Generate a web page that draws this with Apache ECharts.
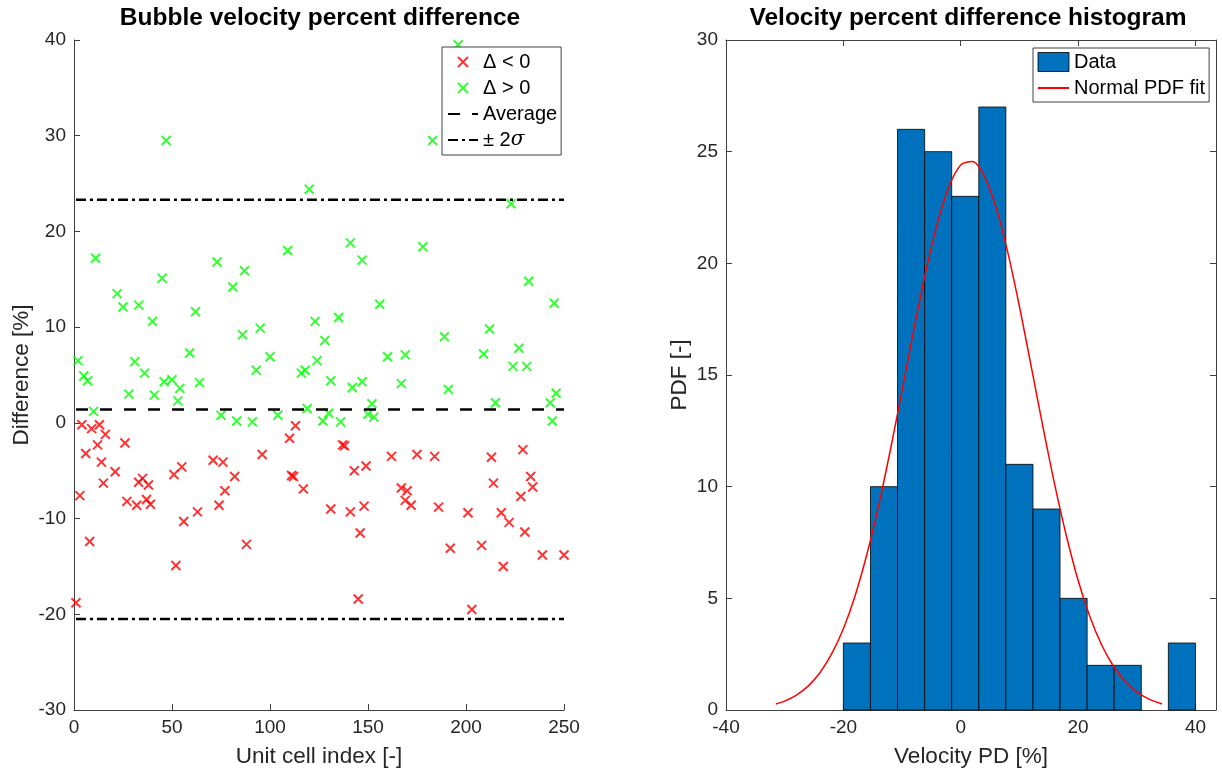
<!DOCTYPE html>
<html>
<head>
<meta charset="utf-8">
<script src="https://cdn.jsdelivr.net/npm/echarts@6/dist/echarts.min.js"></script>
<style>html,body{margin:0;padding:0;background:#fff;}#c{width:1222px;height:773px;}</style>
</head>
<body>
<div id="c"></div>
<script>
// ---- Left plot data: unit cell index and percent difference ----
const negIdx = [1,3,4,6,8,9,12,13,14,15,16,21,26,27,32,33,35,37,38,39,51,52,55,56,63,71,74,76,77,82,88,96,110,111,112,113,117,131,137,138,141,143,145,146,148,149,162,167,169,170,172,175,184,186,192,201,203,208,213,214,218,219,222,228,229,230,233,234,239,250];
const negVal = [-18.8,-7.6,-0.2,-3.2,-12.4,-0.6,-2.3,-0.2,-4.1,-6.3,-1.2,-5.1,-2.1,-8.2,-8.6,-6.2,-5.8,-8.0,-6.5,-8.5,-5.4,-14.9,-4.6,-10.3,-9.3,-3.9,-8.6,-4.1,-7.1,-5.6,-12.7,-3.3,-1.6,-5.5,-5.6,-0.3,-6.9,-9.0,-2.3,-2.4,-9.3,-5.0,-18.4,-11.5,-8.7,-4.5,-3.5,-6.8,-8.1,-7.1,-8.6,-3.3,-3.5,-8.8,-13.1,-9.4,-19.5,-12.8,-3.6,-6.3,-9.4,-15.0,-10.4,-7.7,-2.8,-11.4,-5.6,-6.7,-13.8,-13.8];
const posIdx = [2,5,7,10,11,22,25,28,31,33,36,40,41,45,46,47,50,53,54,59,62,64,73,75,81,83,86,87,91,93,95,100,104,109,116,118,119,120,123,124,128,127,130,131,135,136,141,142,147,147,150,152,153,156,160,167,169,178,183,189,191,196,209,212,215,223,224,227,231,232,243,244,245,246];
const posVal = [6.5,4.9,4.4,1.2,17.2,13.5,12.1,3.0,6.4,12.3,5.2,10.6,2.9,15.1,4.3,29.5,4.5,2.3,3.6,7.3,11.6,4.2,16.8,0.8,14.2,0.2,9.2,15.9,0.1,5.5,9.9,6.9,0.8,18.0,5.2,5.5,1.5,24.4,10.6,6.5,8.6,0.2,1.0,4.4,11.0,0.1,18.8,3.7,17.0,4.3,0.9,2.0,0.6,12.4,6.9,4.1,7.1,18.4,29.5,9.0,3.5,39.5,7.2,9.8,2.1,22.9,5.9,7.8,5.9,14.8,2.1,0.2,12.5,3.1];
const lineIdxRange = [1, 250];
const averageVal = 1.4;
const plus2Sigma = 23.3;
const minus2Sigma = -20.5;

// ---- Right plot data: histogram and fitted normal PDF ----
const binEdges = [-20, -15.38, -10.77, -6.15, -1.54, 3.08, 7.69, 12.31, 16.92, 21.54, 26.15, 30.77, 35.38, 40];
const binCounts = [3, 10, 26, 25, 23, 27, 11, 9, 5, 2, 2, 0, 3];
const fitX = [-31.5,-30,-28,-26,-24,-22,-20,-18,-16,-14,-12,-10,-8,-6,-4,-2,0,2,4,6,8,10,12,14,16,18,20,22,24,26,28,30,32,34.3];
const fitY = [0.27,0.40,0.67,1.07,1.67,2.51,3.64,5.12,6.96,9.15,11.63,14.31,17.02,19.58,21.78,23.44,24.40,24.56,23.92,22.52,20.51,18.07,15.40,12.69,10.11,7.80,5.81,4.19,2.92,1.97,1.29,0.81,0.50,0.27];

// ---- Axis ticks ----
const leftX = {min: 0, max: 250, interval: 50};
const leftY = {min: -30, max: 40, interval: 10};
const rightX = {min: -40, max: 43.5, interval: 20};
const rightY = {min: 0, max: 30, interval: 5};

const FONT = '"Liberation Sans", Arial, Helvetica, sans-serif';
const AX = '#404040';
const TXT = '#262626';
const XPATH = 'path://M0,0L10,10M10,0L0,10';
const HIDE_SYM = {opacity: 0};

const negData = negIdx.map((x, i) => [x, negVal[i]]);
const posData = posIdx.map((x, i) => [x, posVal[i]]);
const bins = [];
binCounts.forEach((c, i) => { if (c > 0) bins.push([binEdges[i], binEdges[i + 1], c]); });
const fitData = fitX.map((x, i) => [x, fitY[i]]);

function axisBase(extra) {
  return Object.assign({
    type: 'value',
    axisLine: {show: true, onZero: false, lineStyle: {color: AX, width: 1}},
    axisTick: {show: true, inside: true, length: 6, lineStyle: {color: AX, width: 1}},
    axisLabel: {fontSize: 19, color: TXT, fontFamily: FONT, margin: 8},
    splitLine: {show: false},
    nameTextStyle: {fontSize: 22.5, color: TXT, fontFamily: FONT}
  }, extra);
}

const chart = echarts.init(document.getElementById('c'), null, {renderer: 'canvas'});
chart.setOption({
  animation: false,
  backgroundColor: '#fff',
  title: [
    {text: 'Bubble velocity percent difference', left: 320, top: 6, textAlign: 'center', padding: 0,
     textStyle: {fontSize: 24.5, fontWeight: 'bold', color: '#000', fontFamily: FONT}},
    {text: 'Velocity percent difference histogram', left: 968, top: 6, textAlign: 'center', padding: 0,
     textStyle: {fontSize: 24.5, fontWeight: 'bold', color: '#000', fontFamily: FONT}}
  ],
  grid: [
    {left: 74, top: 40, width: 490, height: 671},
    {left: 726, top: 40, width: 490, height: 671}
  ],
  xAxis: [
    axisBase(Object.assign({gridIndex: 0, name: 'Unit cell index [-]', nameLocation: 'middle', nameGap: 35}, leftX)),
    axisBase(Object.assign({gridIndex: 1, name: 'Velocity PD [%]', nameLocation: 'middle', nameGap: 35,
      axisLabel: {fontSize: 19, color: TXT, fontFamily: FONT, margin: 8, showMaxLabel: false}}, rightX)),
    axisBase(Object.assign({gridIndex: 1, position: 'top', axisLabel: {show: false}}, rightX))
  ],
  yAxis: [
    axisBase(Object.assign({gridIndex: 0, name: 'Difference [%]', nameLocation: 'middle', nameGap: 41}, leftY)),
    axisBase(Object.assign({gridIndex: 1, name: 'PDF [-]', nameLocation: 'middle', nameGap: 35}, rightY)),
    axisBase(Object.assign({gridIndex: 1, position: 'right', axisLabel: {show: false}}, rightY))
  ],
  legend: [
    {
      orient: 'vertical', left: 442, top: 47, padding: [5, 4, 5, 5], itemGap: 6,
      itemWidth: 30, itemHeight: 10, selectedMode: false,
      borderColor: AX, borderWidth: 1, backgroundColor: '#fff', borderRadius: 0,
      textStyle: {fontSize: 20, lineHeight: 20, color: '#000', fontFamily: FONT,
        rich: {a: {fontSize: 20, lineHeight: 20, color: '#000', fontFamily: FONT},
               b: {fontSize: 20, lineHeight: 20, color: '#000', fontStyle: 'italic', fontFamily: '"DejaVu Serif", serif'}}},
      formatter: function (n) { return n === '± 2σ' ? '{a|± 2}{b|σ}' : n; },
      data: ['Δ < 0', 'Δ > 0',
             {name: 'Average', itemStyle: HIDE_SYM},
             {name: '± 2σ', itemStyle: HIDE_SYM}]
    },
    {
      orient: 'vertical', left: 1033, top: 48, padding: [4, 4, 4, 4], itemGap: 6,
      itemWidth: 31, itemHeight: 19, selectedMode: false,
      borderColor: AX, borderWidth: 1, backgroundColor: '#fff', borderRadius: 0,
      textStyle: {fontSize: 20, lineHeight: 20, color: '#000', fontFamily: FONT},
      data: [
        {name: 'Data', icon: 'rect', itemStyle: {color: '#0072BD', borderColor: '#000', borderWidth: 0.8}},
        {name: 'Normal PDF fit', itemStyle: HIDE_SYM}
      ]
    }
  ],
  series: [
    {name: 'Δ < 0', type: 'scatter', xAxisIndex: 0, yAxisIndex: 0, data: negData,
     symbol: XPATH, symbolSize: 9,
     itemStyle: {color: '#FF0000', borderColor: '#FF0000', borderWidth: 2}},
    {name: 'Δ > 0', type: 'scatter', xAxisIndex: 0, yAxisIndex: 0, data: posData,
     symbol: XPATH, symbolSize: 9,
     itemStyle: {color: '#00FF00', borderColor: '#00FF00', borderWidth: 2}},
    {name: 'Average', type: 'line', xAxisIndex: 0, yAxisIndex: 0, symbol: 'none',
     data: [[lineIdxRange[0], averageVal], [lineIdxRange[1], averageVal]],
     lineStyle: {color: '#000', width: 2.5, type: [12, 12]}, itemStyle: {color: '#000'}},
    {name: '± 2σ', type: 'line', xAxisIndex: 0, yAxisIndex: 0, symbol: 'none',
     data: [[lineIdxRange[0], plus2Sigma], [lineIdxRange[1], plus2Sigma]],
     lineStyle: {color: '#000', width: 2.5, type: [10, 4, 3, 4]}, itemStyle: {color: '#000'}},
    {name: '± 2σ', type: 'line', xAxisIndex: 0, yAxisIndex: 0, symbol: 'none',
     data: [[lineIdxRange[0], minus2Sigma], [lineIdxRange[1], minus2Sigma]],
     lineStyle: {color: '#000', width: 2.5, type: [10, 4, 3, 4]}, itemStyle: {color: '#000'}},
    {name: 'Data', type: 'custom', xAxisIndex: 1, yAxisIndex: 1, data: bins,
     encode: {x: [0, 1], y: 2},
     itemStyle: {color: '#0072BD'},
     renderItem: function (params, api) {
       const p0 = api.coord([api.value(0), api.value(2)]);
       const p1 = api.coord([api.value(1), 0]);
       return {type: 'rect', shape: {x: p0[0], y: p0[1], width: p1[0] - p0[0], height: p1[1] - p0[1]},
               style: {fill: '#0072BD', stroke: '#000', lineWidth: 0.8}};
     }},
    {name: 'Normal PDF fit', type: 'line', xAxisIndex: 1, yAxisIndex: 1, symbol: 'none', smooth: 0.3,
     data: fitData, lineStyle: {color: '#FF0000', width: 1.5}, itemStyle: {color: '#FF0000'}, z: 5}
  ]
});
</script>
</body>
</html>
